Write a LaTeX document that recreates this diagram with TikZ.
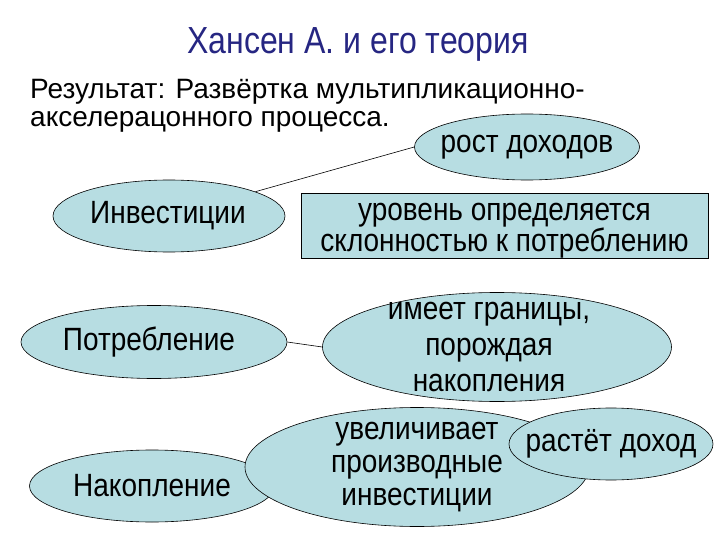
\documentclass[tikz,border=0pt]{standalone}
\usepackage{fontspec}
\setmainfont{Liberation Sans}
\usetikzlibrary{shapes.geometric}
\definecolor{ellfill}{RGB}{183,221,226}
\definecolor{titleblue}{RGB}{38,38,130}
\newcommand{\vst}[1]{\scalebox{1}[1.15]{#1}}
\tikzset{
  ell/.style={ellipse, draw=black, line width=0.6pt, fill=ellfill, inner sep=0pt},
  boxstyle/.style={rectangle, draw=black, line width=0.6pt, fill=ellfill, inner sep=0pt},
  lbl/.style={font=\fontsize{28}{33}\selectfont, align=center, inner sep=0pt, text=black},
  conn/.style={draw=black, line width=0.6pt}
}
\begin{document}
\begin{tikzpicture}[x=1pt,y=-1pt]
\useasboundingbox (0,0) rectangle (720,540);
% title and text
\node[anchor=base, font=\fontsize{32}{38}\selectfont, text=titleblue, inner sep=0pt] (title) at (358,54) {\scalebox{1}[1.18]{Хансен А. и его теория}};
\node[anchor=base west, font=\fontsize{28}{30}\selectfont, inner sep=0pt] (res1) at (30,99) {Результат: Развёртка мультипликационно-};
\node[anchor=base west, font=\fontsize{28}{30}\selectfont, inner sep=0pt] (res2) at (30,127) {акселерацонного процесса.};
% shapes
\node[ell, minimum width=225pt, minimum height=66pt] (rost) at (527,147) {};
\node[ell, minimum width=232pt, minimum height=72pt] (inv) at (169,216) {};
\draw[conn] (inv) -- (rost.west);
\node[boxstyle, minimum width=407pt, minimum height=65pt] (lev) at (504.5,225.5) {};
\node[ell, minimum width=266pt, minimum height=73pt] (potr) at (154,342) {};
\node[ell, minimum width=349pt, minimum height=109pt] (imeet) at (497,347) {};
\draw[conn] (potr.east) -- (imeet.west);
\node[ell, minimum width=245pt, minimum height=72pt] (nak) at (152,486) {};
\node[ell, minimum width=344pt, minimum height=119pt] (uvel) at (417,467) {};
\node[ell, minimum width=204pt, minimum height=72pt] (rast) at (611,444) {};
% labels
\node[lbl] (trost) at (rost.center) {\vst{рост доходов}};
\node[lbl] (tinv) at ([xshift=-1pt]inv.center) {\vst{Инвестиции}};
\node[lbl, font=\fontsize{28}{30}\selectfont] (tlev) at ([yshift=-5pt]lev.center) {\vst{уровень определяется}\\\vst{склонностью к потреблению}};
\node[lbl] (tpotr) at ([xshift=-5pt]potr.center) {\vst{Потребление}};
\node[lbl, font=\fontsize{28}{36}\selectfont] (timeet) at ([xshift=-8pt]imeet.center) {\vst{имеет границы,}\\\vst{порождая}\\\vst{накопления}};
\node[lbl] (tnak) at (nak.center) {\vst{Накопление}};
\node[lbl, font=\fontsize{28}{33}\selectfont] (tuvel) at (uvel.center) {\vst{увеличивает}\\\vst{производные}\\\vst{инвестиции}};
\node[lbl] (trast) at (rast.center) {\vst{растёт доход}};
\end{tikzpicture}
\end{document}
